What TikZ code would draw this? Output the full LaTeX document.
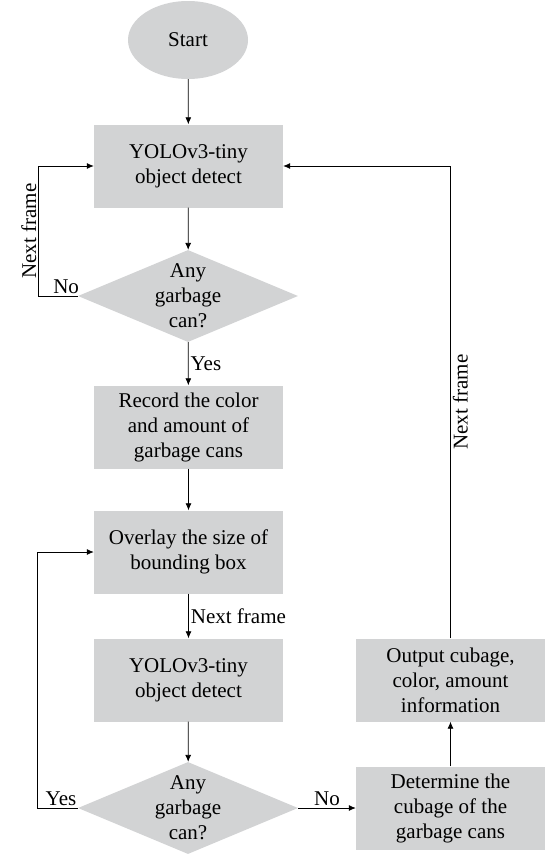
\documentclass[tikz,border=0pt]{standalone}
\usepackage{fontspec}
\setmainfont{Liberation Serif}
\usepackage{xcolor}
\usepackage{tikz}
\usetikzlibrary{shapes.geometric,arrows.meta,positioning}

\definecolor{boxgray}{RGB}{210,211,212}

\begin{document}
\begin{tikzpicture}[
    x=1pt, y=-1pt,
    txt/.style={font=\fontsize{21}{25}\selectfont},
    startnode/.style={ellipse, fill=boxgray, minimum width=120pt, minimum height=78pt, inner sep=0pt, txt},
    procbox/.style={rectangle, fill=boxgray, minimum width=189pt, minimum height=83pt, inner sep=0pt, align=center, txt},
    decision/.style={diamond, fill=boxgray, aspect=2.4, minimum width=220pt, minimum height=92pt, inner sep=-4pt, align=center, txt},
    arr/.style={-{Latex[length=7pt,width=6pt]}, line width=0.8pt, black},
    lbl/.style={txt, inner sep=2pt},
  ]
    \useasboundingbox (0,0) rectangle (555,854);

    % Start
    \node[startnode] (start) at (188,40) {Start};

    % Left column
    \node[procbox] (det1) at (188.5,166) {YOLOv3-tiny\\object detect};
    \node[decision] (dec1) at (188,296) {Any\\garbage\\can?};
    \node[procbox] (rec) at (188.5,427) {Record the color\\and amount of\\garbage cans};
    \node[procbox] (ovl) at (188.5,552) {Overlay the size of\\bounding box};
    \node[procbox] (det2) at (188.5,680) {YOLOv3-tiny\\object detect};
    \node[decision] (dec2) at (188,808) {Any\\garbage\\can?};

    % Right column
    \node[procbox] (cub) at (450.5,808) {Determine the\\cubage of the\\garbage cans};
    \node[procbox] (out) at (450.5,680) {Output cubage,\\color, amount\\information};

    % Main flow
    \draw[arr] (start) -- (det1);
    \draw[arr] (det1) -- (dec1);
    \draw[arr] (dec1) -- node[right, lbl] {Yes} (rec);
    \draw[arr] (rec) -- (ovl);
    \draw[arr] (ovl) -- node[right, lbl] {Next frame} (det2);
    \draw[arr] (det2) -- (dec2);
    \draw[arr] (dec2) -- node[above, lbl] {No} (cub);
    \draw[arr] (cub) -- (out);

    % Loops
    \draw[arr] (dec1.west) -- node[above, lbl, pos=0.3] {No} ++(-39,0)
      |- node[pos=0.25, rotate=90, above, lbl] {Next frame} (det1.west);
    \draw[arr] (dec2.west) -- node[above, lbl, pos=0.42] {Yes} ++(-40,0) |- (ovl.west);
    \draw[arr] (out.north) |- node[pos=0.25, rotate=90, below, lbl] {Next frame} (det1.east);

\end{tikzpicture}
\end{document}
